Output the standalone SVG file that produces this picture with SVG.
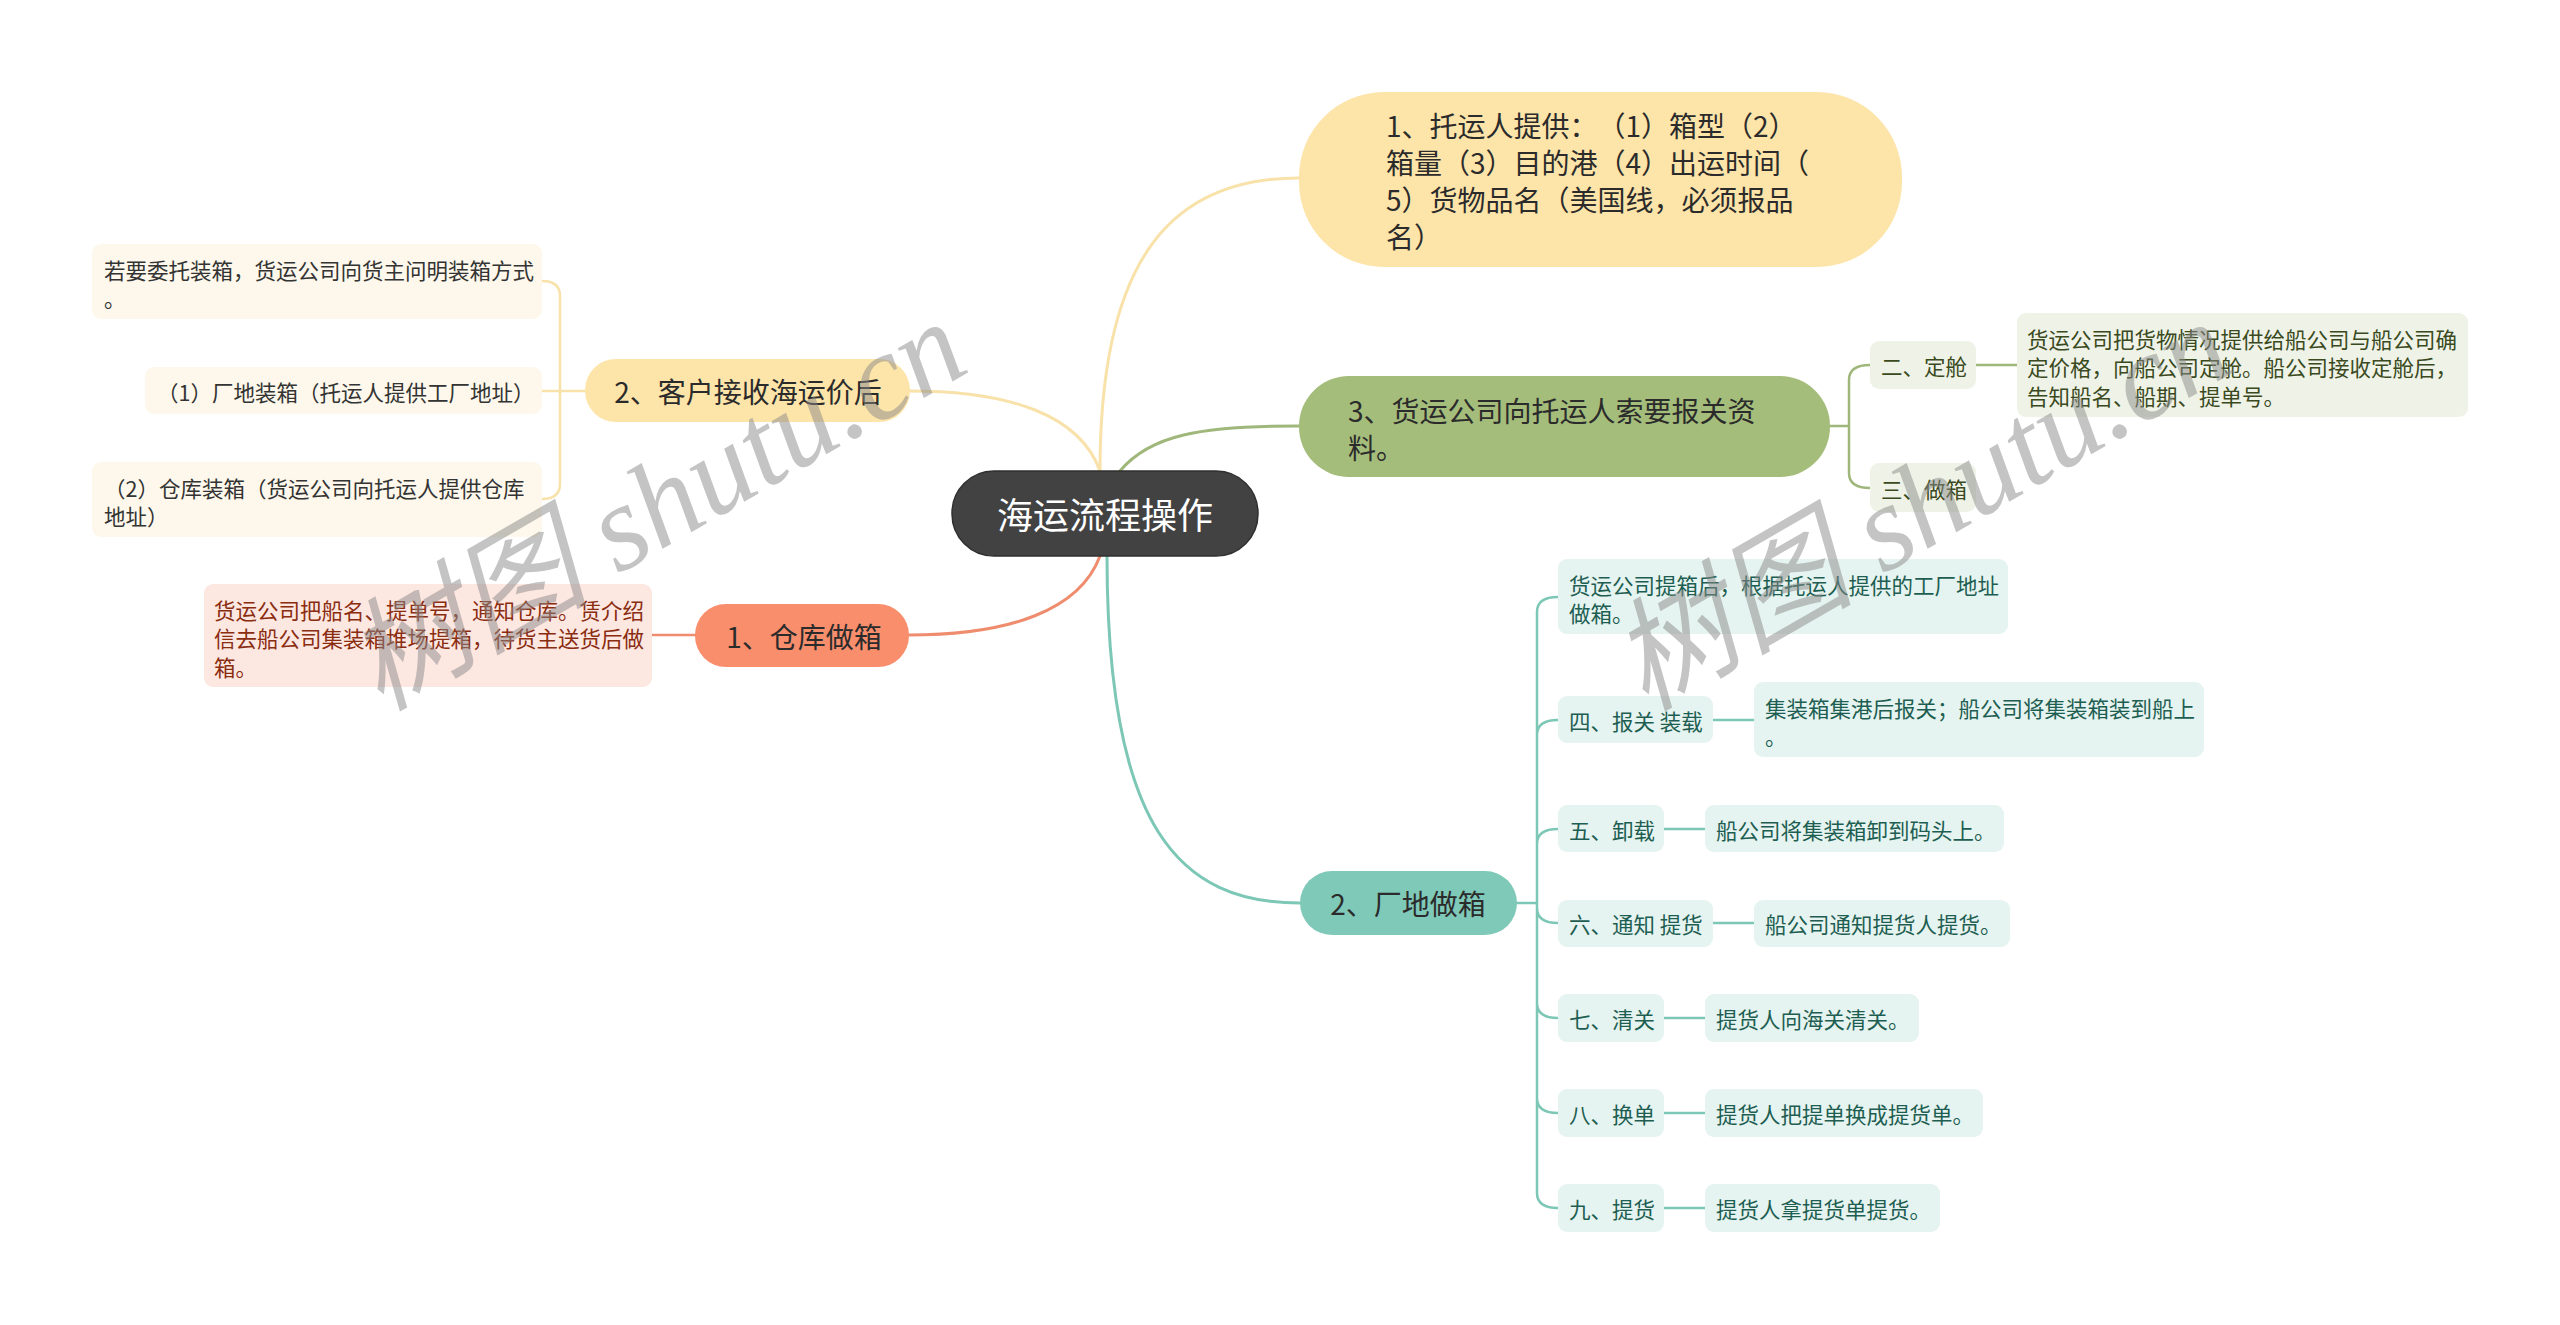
<svg xmlns="http://www.w3.org/2000/svg" width="2560" height="1325" viewBox="0 0 2560 1325">
<style>
text{font-family:"Noto Sans CJK SC","Noto Sans",sans-serif;dominant-baseline:central;text-spacing-trim:space-all}
.main{font-size:28px;fill:#2b2b2b}
.leaf{font-size:21.5px}
.c{stroke-linecap:round;fill:none}
.cy{stroke:#F8E2AA}
.cg{stroke:#9FB77A}
.co{stroke:#EE8C6D}
.ct{stroke:#7DC7B6}
.ly{fill:#FDF8EB}.lyt{fill:#333333}
.lg{fill:#EFF3E7}.lgt{fill:#3A4A1E}
.lo{fill:#FDE7E1}.lot{fill:#8A2C10}
.lt{fill:#E5F4F0}.ltt{fill:#1E5E52}
.wm{font-family:"Liberation Serif","Noto Sans CJK SC",serif;font-style:italic;font-size:122px;fill:#8a8a8a;opacity:0.5;dominant-baseline:auto}
</style>
<rect width="2560" height="1325" fill="#ffffff"/>
<g id="connectors">
<path class="c cy" stroke-width="3" d="M1100,471 C1100,260 1170,178 1299,178"/>
<path class="c cg" stroke-width="3" d="M1120,471 C1150,435 1200,426 1299,426"/>
<path class="c cy" stroke-width="3" d="M1100,471 C1080,415 1010,391 910,391"/>
<path class="c co" stroke-width="3" d="M1100,556 C1080,610 1010,635 909,635"/>
<path class="c ct" stroke-width="3" d="M1107,556 C1107,830 1180,903 1300,903"/>
<path class="c cy" stroke-width="2.5" d="M585,391 H542 M585,391 H560 V296 Q560,281 542,281 M560,391 V484 Q560,499 542,499"/>
<path class="c co" stroke-width="2.5" d="M652,635 H695"/>
<path class="c cg" stroke-width="2.5" d="M1830,426 H1849 V380 Q1849,365 1870,365 M1849,426 V473 Q1849,488 1870,488 M1976,365 H2017"/>
<path class="c ct" stroke-width="2.5" d="M1517,903 H1537 V612 Q1537,597 1558,597 M1537,735 Q1537,720 1558,720 M1537,844 Q1537,829 1558,829 M1537,903 V908 Q1537,923 1558,923 M1537,908 V1003 Q1537,1018 1558,1018 M1537,1003 V1098 Q1537,1113 1558,1113 M1537,1098 V1193 Q1537,1208 1558,1208"/>
<path class="c ct" stroke-width="2.5" d="M1713,720 H1754 M1664,829 H1705 M1713,923 H1754 M1664,1018 H1705 M1664,1113 H1705 M1664,1208 H1705"/>
</g>
<g id="root">
<rect x="952" y="471" width="306" height="85" rx="42" fill="#424242" stroke="#2f2f2f" stroke-width="1.5"/>
<text x="1105" y="513" font-size="36" fill="#ffffff" text-anchor="middle">海运流程操作</text>
</g>
<g id="n-tuoyun">
<rect x="1299" y="92" width="603" height="175" rx="85" fill="#FDE4A9"/>
<text class="main" x="1386" y="125">1、托运人提供：（1）箱型（2）</text>
<text class="main" x="1386" y="162">箱量（3）目的港（4）出运时间（</text>
<text class="main" x="1386" y="199">5）货物品名（美国线，必须报品</text>
<text class="main" x="1386" y="236">名）</text>
</g>
<g id="n-baoguan">
<rect x="1299" y="376" width="531" height="101" rx="50" fill="#A5BD7B"/>
<text class="main" x="1348" y="410">3、货运公司向托运人索要报关资</text>
<text class="main" x="1348" y="447">料。</text>
</g>
<g id="n-kehu">
<rect x="585" y="359" width="325" height="63" rx="31" fill="#FDE4A9"/>
<text class="main" x="748" y="391" text-anchor="middle">2、客户接收海运价后</text>
</g>
<g id="n-cangku">
<rect x="695" y="604" width="214" height="63" rx="31" fill="#F98E6D"/>
<text class="main" x="804" y="636" text-anchor="middle">1、仓库做箱</text>
</g>
<g id="n-changdi">
<rect x="1300" y="871" width="217" height="64" rx="32" fill="#7FC9B9"/>
<text class="main" x="1408" y="903" text-anchor="middle">2、厂地做箱</text>
</g>
<g id="l-weituo">
<rect class="ly" x="92" y="244" width="450" height="75" rx="9"/>
<text class="leaf lyt" x="104" y="269">若要委托装箱，货运公司向货主问明装箱方式</text>
<text class="leaf lyt" x="104" y="297.5">。</text>
</g>
<g id="l-changdizx">
<rect class="ly" x="145" y="367" width="397" height="47" rx="9"/>
<text class="leaf lyt" x="157" y="391">（1）厂地装箱（托运人提供工厂地址）</text>
</g>
<g id="l-cangkuzx">
<rect class="ly" x="92" y="462" width="450" height="75" rx="9"/>
<text class="leaf lyt" x="104" y="487">（2）仓库装箱（货运公司向托运人提供仓库</text>
<text class="leaf lyt" x="104" y="515.5">地址）</text>
</g>
<g id="l-cangku-desc">
<rect class="lo" x="204" y="584" width="448" height="103" rx="9"/>
<text class="leaf lot" x="214" y="609">货运公司把船名、提单号，通知仓库。赁介绍</text>
<text class="leaf lot" x="214" y="637.5">信去船公司集装箱堆场提箱，待货主送货后做</text>
<text class="leaf lot" x="214" y="666">箱。</text>
</g>
<g id="l-dingcang">
<rect class="lg" x="1870" y="341" width="106" height="48" rx="9"/>
<text class="leaf lgt" x="1881" y="365">二、定舱</text>
</g>
<g id="l-dingcang-desc">
<rect class="lg" x="2017" y="313" width="451" height="104" rx="9"/>
<text class="leaf lgt" x="2027" y="338">货运公司把货物情况提供给船公司与船公司确</text>
<text class="leaf lgt" x="2027" y="366.5">定价格，向船公司定舱。船公司接收定舱后，</text>
<text class="leaf lgt" x="2027" y="395">告知船名、船期、提单号。</text>
</g>
<g id="l-zuoxiang">
<rect class="lg" x="1870" y="463" width="106" height="49" rx="9"/>
<text class="leaf lgt" x="1881" y="488">三、做箱</text>
</g>
<g id="l-tixiang">
<rect class="lt" x="1558" y="559" width="450" height="75" rx="9"/>
<text class="leaf ltt" x="1569" y="584">货运公司提箱后，根据托运人提供的工厂地址</text>
<text class="leaf ltt" x="1569" y="612.5">做箱。</text>
</g>
<g id="l-si">
<rect class="lt" x="1558" y="696" width="155" height="47" rx="9"/>
<text class="leaf ltt" x="1569" y="720">四、报关 装载</text>
</g>
<g id="l-si-desc">
<rect class="lt" x="1754" y="682" width="450" height="75" rx="9"/>
<text class="leaf ltt" x="1765" y="707">集装箱集港后报关；船公司将集装箱装到船上</text>
<text class="leaf ltt" x="1765" y="735.5">。</text>
</g>
<g id="l-wu">
<rect class="lt" x="1558" y="805" width="106" height="47" rx="9"/>
<text class="leaf ltt" x="1569" y="829">五、卸载</text>
</g>
<g id="l-wu-desc">
<rect class="lt" x="1705" y="805" width="299" height="47" rx="9"/>
<text class="leaf ltt" x="1716" y="829">船公司将集装箱卸到码头上。</text>
</g>
<g id="l-liu">
<rect class="lt" x="1558" y="900" width="155" height="47" rx="9"/>
<text class="leaf ltt" x="1569" y="923">六、通知 提货</text>
</g>
<g id="l-liu-desc">
<rect class="lt" x="1754" y="900" width="256" height="47" rx="9"/>
<text class="leaf ltt" x="1765" y="923">船公司通知提货人提货。</text>
</g>
<g id="l-qi">
<rect class="lt" x="1558" y="994" width="106" height="48" rx="9"/>
<text class="leaf ltt" x="1569" y="1018">七、清关</text>
</g>
<g id="l-qi-desc">
<rect class="lt" x="1705" y="994" width="214" height="48" rx="9"/>
<text class="leaf ltt" x="1716" y="1018">提货人向海关清关。</text>
</g>
<g id="l-ba">
<rect class="lt" x="1558" y="1089" width="106" height="48" rx="9"/>
<text class="leaf ltt" x="1569" y="1113">八、换单</text>
</g>
<g id="l-ba-desc">
<rect class="lt" x="1705" y="1089" width="278" height="48" rx="9"/>
<text class="leaf ltt" x="1716" y="1113">提货人把提单换成提货单。</text>
</g>
<g id="l-jiu">
<rect class="lt" x="1558" y="1184" width="106" height="48" rx="9"/>
<text class="leaf ltt" x="1569" y="1208">九、提货</text>
</g>
<g id="l-jiu-desc">
<rect class="lt" x="1705" y="1184" width="235" height="48" rx="9"/>
<text class="leaf ltt" x="1716" y="1208">提货人拿提货单提货。</text>
</g>
<g id="watermark">
<text class="wm" transform="translate(380,712) rotate(-30)">树图 shutu.cn</text>
<text class="wm" transform="translate(1645,712) rotate(-30)">树图 shutu.cn</text>
</g>
</svg>
